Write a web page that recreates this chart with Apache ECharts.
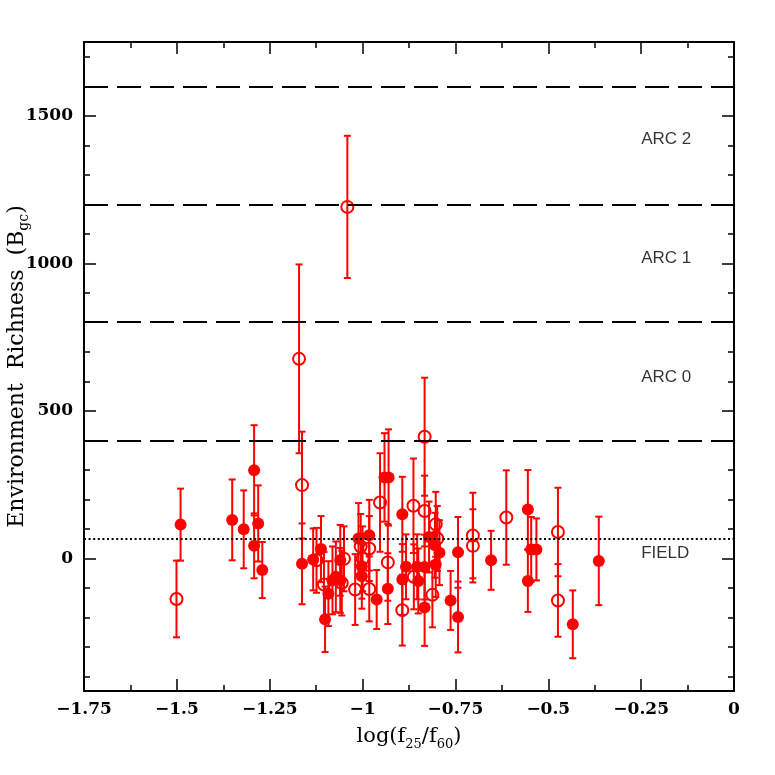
<!DOCTYPE html>
<html>
<head>
<meta charset="utf-8">
<script src="https://cdn.jsdelivr.net/npm/echarts@6/dist/echarts.min.js"></script>
<style>
  html, body { margin: 0; background: #fff; }
  #chart { width: 775px; height: 775px; }
</style>
</head>
<body>
<div id="chart"></div>
<script>
// filled symbols: log(f25/f60), Bgc, 1-sigma error
const filledX = [-1.490, -1.351, -1.320, -1.292, -1.281, -1.292, -1.270, -1.163, -1.133, -1.112,
  -1.101, -1.092, -1.081, -1.072, -1.060, -1.060, -1.011, -1.002, -1.002, -0.982,
  -0.962, -0.941, -0.930, -0.932, -0.893, -0.893, -0.883, -0.853, -0.850, -0.833,
  -0.833, -0.821, -0.805, -0.803, -0.793, -0.763, -0.743, -0.743, -0.654, -0.555,
  -0.555, -0.546, -0.532, -0.434, -0.364];
const filledY = [114, 130, 98, 298, 118, 42, -40, -19, -4, 31,
  -207, -120, -75, -63, -75, -7, 67, -27, -61, 78,
  -140, 274, 274, -103, 149, -72, -29, -29, -77, -167,
  -30, 72, 44, -21, 19, -143, -199, 20, -7, 165,
  -77, 30, 30, -224, -9];
const filledErr = [122, 137, 132, 153, 129, 110, 95, 137, 105, 112,
  111, 110, 115, 120, 110, 120, 120, 110, 110, 120,
  100, 150, 163, 120, 127, 120, 110, 110, 110, 130,
  110, 120, 110, 110, 110, 100, 120, 120, 100, 134,
  105, 110, 105, 115, 150];

// open symbols
const openX = [-1.501, -1.171, -1.163, -1.124, -1.104, -1.056, -1.050, -1.041, -1.020, -1.005,
  -1.000, -0.982, -0.982, -0.953, -0.932, -0.893, -0.863, -0.862, -0.833, -0.833,
  -0.812, -0.803, -0.799, -0.703, -0.703, -0.613, -0.474, -0.474];
const openY = [-138, 676, 248, -7, -89, -84, -2, 1191, -106, 40,
  -2, 33, -104, 189, -14, -176, 178, -63, 412, 160,
  -124, 115, 67, 77, 42, 138, 89, -143];
const openErr = [130, 320, 181, 110, 110, 110, 110, 241, 120, 110,
  110, 110, 110, 167, 130, 120, 160, 110, 200, 120,
  110, 110, 110, 145, 124, 160, 150, 123];

// class boundaries and labels
const arcLevels = [400, 800, 1200, 1600];
const fieldLevel = 65;
const regionNames = ['ARC 0', 'ARC 1', 'ARC 2', 'FIELD'];
const regionY = [614, 1018, 1419, 17];
const regionX = -0.25;

const yLabelTicks = [0, 500, 1000, 1500];
const yMinorTicks = [-400, -300, -200, -100, 0, 100, 200, 300, 400, 500, 600, 700, 800,
  900, 1000, 1100, 1200, 1300, 1400, 1500, 1600, 1700];

const RED = '#ff0000';
const SERIF = '"DejaVu Serif", serif';

const chart = echarts.init(document.getElementById('chart'));

function errorBar(params, api) {
  const x = api.value(0), y = api.value(1), e = api.value(2);
  const hi = api.coord([x, y + e]);
  const lo = api.coord([x, y - e]);
  const cap = 3.5;
  const style = { stroke: RED, lineWidth: 2 };
  return {
    type: 'group',
    children: [
      { type: 'line', shape: { x1: hi[0], y1: hi[1], x2: lo[0], y2: lo[1] }, style },
      { type: 'line', shape: { x1: hi[0] - cap, y1: hi[1], x2: hi[0] + cap, y2: hi[1] }, style },
      { type: 'line', shape: { x1: lo[0] - cap, y1: lo[1], x2: lo[0] + cap, y2: lo[1] }, style }
    ]
  };
}

const axisLineStyle = { show: true, onZero: false, lineStyle: { color: '#000', width: 2 } };
const tickFont = { color: '#000', fontFamily: SERIF, fontSize: 17, fontWeight: 'bold' };

function xAxisCfg(pos, withLabels) {
  return {
    type: 'value', position: pos, min: -1.75, max: 0, interval: 0.25,
    axisLine: axisLineStyle,
    axisTick: { inside: true, length: 12, lineStyle: { color: '#000', width: 1.5 } },
    minorTick: { show: true, splitNumber: 2, length: 6, lineStyle: { color: '#000', width: 1.5 } },
    splitLine: { show: false },
    axisLabel: Object.assign({
      show: withLabels, margin: 10,
      formatter: v => (v === 0 ? '0' : '\u2212' + Math.abs(v))
    }, tickFont)
  };
}

function yAxisCfg(pos, ticks, len, withLabels) {
  return {
    type: 'value', position: pos, min: -450, max: 1750, offset: 0,
    axisLine: axisLineStyle,
    axisTick: { inside: true, length: len, customValues: ticks, lineStyle: { color: '#000', width: 1.5 } },
    splitLine: { show: false },
    axisLabel: Object.assign({
      show: withLabels, customValues: yLabelTicks, margin: 11, formatter: v => String(v)
    }, tickFont)
  };
}

const xAxes = [xAxisCfg('bottom', true), xAxisCfg('top', false)];
xAxes[0].name = 'log(f{s|25}/f{s|60})';
xAxes[0].nameLocation = 'middle';
xAxes[0].nameGap = 32;
xAxes[0].nameMoveOverlap = false;
xAxes[0].nameTextStyle = {
  color: '#000', fontFamily: SERIF, fontSize: 21, lineHeight: 28,
  rich: { s: { fontFamily: SERIF, fontSize: 13, lineHeight: 16, verticalAlign: 'bottom' } }
};

const yAxes = [
  yAxisCfg('left', yLabelTicks, 12, true),
  yAxisCfg('left', yMinorTicks, 6, false),
  yAxisCfg('right', yLabelTicks, 12, false),
  yAxisCfg('right', yMinorTicks, 6, false)
];
yAxes[0].name = 'Environment  Richness  (B{s|gc})';
yAxes[0].nameLocation = 'middle';
yAxes[0].nameGap = 53;
yAxes[0].nameMoveOverlap = false;
yAxes[0].nameTextStyle = {
  color: '#000', fontFamily: SERIF, fontSize: 22, lineHeight: 28,
  rich: { s: { fontFamily: SERIF, fontSize: 14, lineHeight: 16, verticalAlign: 'bottom' } }
};

chart.setOption({
  backgroundColor: '#fff',
  animation: false,
  grid: { left: 84, right: 41, top: 42, bottom: 84, containLabel: false, outerBoundsMode: 'none' },
  xAxis: xAxes,
  yAxis: yAxes,
  series: [
    {
      type: 'line', data: [], silent: true,
      markLine: {
        symbol: 'none', silent: true, label: { show: false },
        lineStyle: { color: '#000', width: 2, type: [24, 9] },
        data: arcLevels.map(v => ({ yAxis: v }))
      }
    },
    {
      type: 'line', data: [], silent: true,
      markLine: {
        symbol: 'none', silent: true, label: { show: false },
        lineStyle: { color: '#000', width: 2, type: [2, 2.6] },
        data: [{ yAxis: fieldLevel }]
      }
    },
    {
      type: 'scatter', symbolSize: 0, silent: true,
      label: {
        show: true, position: 'right', distance: 0, color: '#000',
        fontFamily: '"Liberation Sans", Arial, sans-serif', fontSize: 17,
        formatter: p => p.value[2]
      },
      data: regionNames.map((n, i) => [regionX, regionY[i], n])
    },
    {
      type: 'custom', renderItem: errorBar, encode: { x: 0, y: 1 },
      data: filledX.map((x, i) => [x, filledY[i], filledErr[i]])
    },
    {
      type: 'custom', renderItem: errorBar, encode: { x: 0, y: 1 },
      data: openX.map((x, i) => [x, openY[i], openErr[i]])
    },
    {
      type: 'scatter', symbol: 'circle', symbolSize: 12,
      itemStyle: { color: RED, opacity: 1 },
      data: filledX.map((x, i) => [x, filledY[i]])
    },
    {
      type: 'scatter', symbol: 'circle', symbolSize: 12,
      itemStyle: { color: 'rgba(255,255,255,0)', borderColor: RED, borderWidth: 2, opacity: 1 },
      data: openX.map((x, i) => [x, openY[i]])
    }
  ]
});
</script>
</body>
</html>
